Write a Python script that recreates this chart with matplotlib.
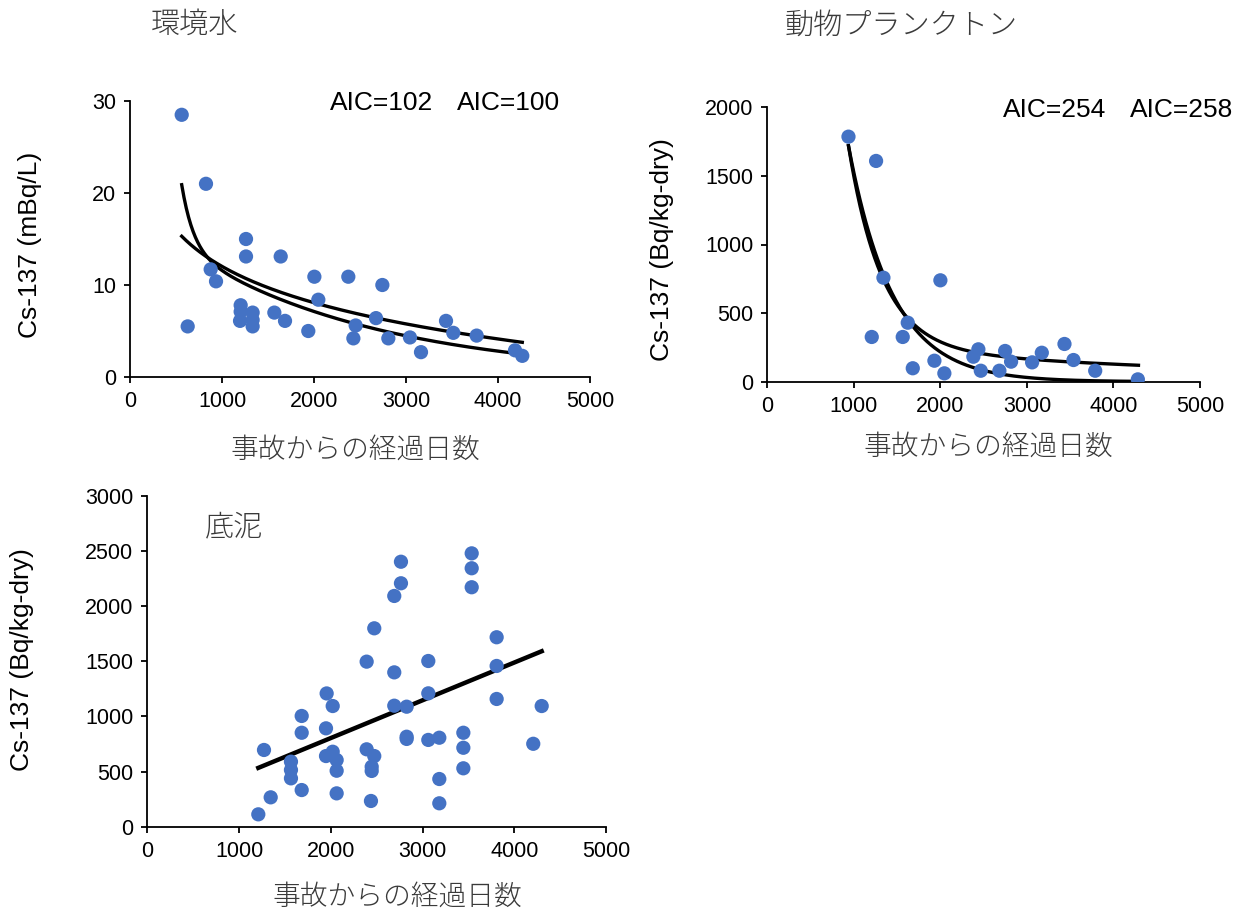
import numpy as np
import matplotlib
matplotlib.use("Agg")
import matplotlib.pyplot as plt

plt.rcParams['font.family'] = ['Liberation Sans', 'Noto Sans CJK JP', 'DejaVu Sans']

# ---------------- data ----------------
# 環境水 (environmental water), Cs-137 mBq/L
water_days = [562, 826, 627, 877, 935, 1261, 1261, 1638, 1203, 1203, 1196, 1333, 1333,
              1333, 1569, 1685, 1938, 2004, 2047, 2373, 2453, 2428, 2674, 2743, 2808,
              3043, 3163, 3435, 3514, 3768, 4185, 4264]
water_cs = [28.5, 21.0, 5.5, 11.7, 10.4, 15.0, 13.1, 13.1, 7.8, 7.1, 6.1, 7.0, 6.2,
            5.5, 7.0, 6.1, 5.0, 10.9, 8.4, 10.9, 5.6, 4.2, 6.4, 10.0, 4.2,
            4.3, 2.7, 6.1, 4.8, 4.5, 2.9, 2.3]
# fitted models: two-component exponential and logarithmic
water_range = [562, 4264]
water_biexp = [7.0, 7.7e-3, 13.9, 4.65e-4]     # a1, k1, a2, k2 (t from range start)
water_log = [15.3, 5.69]                       # a, b in a - b*ln(t/t0)
water_aic = ["AIC=102", "AIC=100"]

# 動物プランクトン (zooplankton), Cs-137 Bq/kg-dry
zoo_days = [938, 1257, 1342, 2000, 1207, 1565, 1623, 1681, 1931, 2046, 2381, 2439,
            2467, 2682, 2748, 2817, 3060, 3172, 3434, 3538, 3789, 4282]
zoo_cs = [1786, 1609, 758, 739, 326, 326, 430, 98, 153, 61, 182, 236,
          80, 80, 224, 146, 141, 211, 275, 158, 80, 17]
zoo_range = [938, 4289]
zoo_exp = [1720, 1.95e-3]                      # a, k
zoo_biexp = [1470, 2.6e-3, 250, 2.2e-4]        # a1, k1, a2, k2
zoo_aic = ["AIC=254", "AIC=258"]

# 底泥 (sediment), Cs-137 Bq/kg-dry
sed_days = [1210, 1272, 1345, 1566, 1566, 1566, 1683, 1683, 1683, 1955, 2021, 1948,
            1948, 2021, 2064, 2064, 2064, 2391, 2474, 2391, 2474, 2446, 2446, 2438,
            2765, 2765, 2692, 2692, 2692, 2827, 2827, 2827, 3063, 3063, 3063, 3183,
            3183, 3183, 3445, 3445, 3445, 3536, 3536, 3536, 3808, 3808, 3808, 4207, 4299]
sed_cs = [112, 695, 266, 589, 514, 438, 1003, 851, 332, 1207, 1093, 891,
          640, 679, 604, 507, 302, 1495, 1797, 701, 640, 543, 505, 233,
          2400, 2205, 2090, 1398, 1096, 1087, 815, 795, 1501, 1208, 786, 806,
          432, 212, 851, 715, 529, 2476, 2341, 2169, 1716, 1456, 1157, 751, 1093]
sed_range = [1210, 4299]
sed_linear = [119, 0.342]                      # intercept, slope

x_ticks = [0, 1000, 2000, 3000, 4000, 5000]
xlabel_jp = "事故からの経過日数"

# ---------------- styling ----------------
W, H = 1243, 917
fig = plt.figure(figsize=(W / 100, H / 100), dpi=100)
BLUE = "#4472C4"
JP = ['Noto Sans CJK JP', 'DejaVu Sans']
TXT_JP = "#3a3a3a"


def px_axes(left, top, right, bottom):
    return fig.add_axes([left / W, 1 - bottom / H, (right - left) / W, (bottom - top) / H])


def style(ax, ymax, ystep):
    for s in ("top", "right"):
        ax.spines[s].set_visible(False)
    for s in ("left", "bottom"):
        ax.spines[s].set_linewidth(1.3)
        ax.spines[s].set_color("black")
    ax.set_xlim(0, 5000)
    ax.set_ylim(0, ymax)
    ax.set_xticks(x_ticks)
    ax.set_yticks(np.arange(0, ymax + 1, ystep))
    ax.tick_params(direction="out", length=4, width=1.3, labelsize=15.5, colors="black", pad=6)
    ax.patch.set_alpha(0)


def fig_text(x, y, s, **kw):
    fig.text(x / W, 1 - y / H, s, **kw)


# ---- panel 1: 環境水 ----
ax1 = px_axes(130, 101, 590, 377)
style(ax1, 30, 10)
t = np.linspace(water_range[0], water_range[1], 300)
dt = t - water_range[0]
a1, k1, a2, k2 = water_biexp
ax1.plot(t, a1 * np.exp(-k1 * dt) + a2 * np.exp(-k2 * dt), color="black", lw=2.4, zorder=2)
ax1.plot(t, water_log[0] - water_log[1] * np.log(t / water_range[0]), color="black", lw=2.4, zorder=2)
ax1.scatter(water_days, water_cs, s=105, color=BLUE, edgecolors="none", zorder=3)
fig_text(330, 103, water_aic[0], fontsize=19, va="center", ha="left")
fig_text(457, 103, water_aic[1], fontsize=19, va="center", ha="left")
fig_text(30, 245, "Cs-137 (mBq/L)", fontsize=19, rotation=90, ha="center", va="center")
fig_text(355, 450, xlabel_jp, fontsize=20, family=JP, weight="light", color=TXT_JP,
         ha="center", va="center")
fig_text(195, 25, "環境水", fontsize=21, family=JP, weight="light", color=TXT_JP,
         ha="center", va="center")

# ---- panel 2: 動物プランクトン ----
ax2 = px_axes(767.3, 107.3, 1200, 381.7)
style(ax2, 2000, 500)
t = np.linspace(zoo_range[0], zoo_range[1], 300)
dt = t - zoo_range[0]
ax2.plot(t, zoo_exp[0] * np.exp(-zoo_exp[1] * dt), color="black", lw=2.4, zorder=2)
b1, m1, b2, m2 = zoo_biexp
ax2.plot(t, b1 * np.exp(-m1 * dt) + b2 * np.exp(-m2 * dt), color="black", lw=2.4, zorder=2)
ax2.scatter(zoo_days, zoo_cs, s=105, color=BLUE, edgecolors="none", zorder=3)
fig_text(1003, 110, zoo_aic[0], fontsize=19, va="center", ha="left")
fig_text(1130, 110, zoo_aic[1], fontsize=19, va="center", ha="left")
fig_text(662, 250, "Cs-137 (Bq/kg-dry)", fontsize=19, rotation=90, ha="center", va="center")
fig_text(988, 447, xlabel_jp, fontsize=20, family=JP, weight="light", color=TXT_JP,
         ha="center", va="center")
fig_text(901, 25, "動物プランクトン", fontsize=21, family=JP, weight="light", color=TXT_JP,
         ha="center", va="center")

# ---- panel 3: 底泥 ----
ax3 = px_axes(147.3, 495.5, 606, 826.7)
style(ax3, 3000, 500)
t = np.array(sed_range, dtype=float)
ax3.plot(t, sed_linear[0] + sed_linear[1] * t, color="black", lw=3.2, zorder=2)
ax3.scatter(sed_days, sed_cs, s=105, color=BLUE, edgecolors="none", zorder=3)
fig_text(22, 660, "Cs-137 (Bq/kg-dry)", fontsize=19, rotation=90, ha="center", va="center")
fig_text(397, 897, xlabel_jp, fontsize=20, family=JP, weight="light", color=TXT_JP,
         ha="center", va="center")
fig_text(234, 527, "底泥", fontsize=21, family=JP, weight="light", color=TXT_JP,
         ha="center", va="center")

fig.savefig("out.png", dpi=100)
